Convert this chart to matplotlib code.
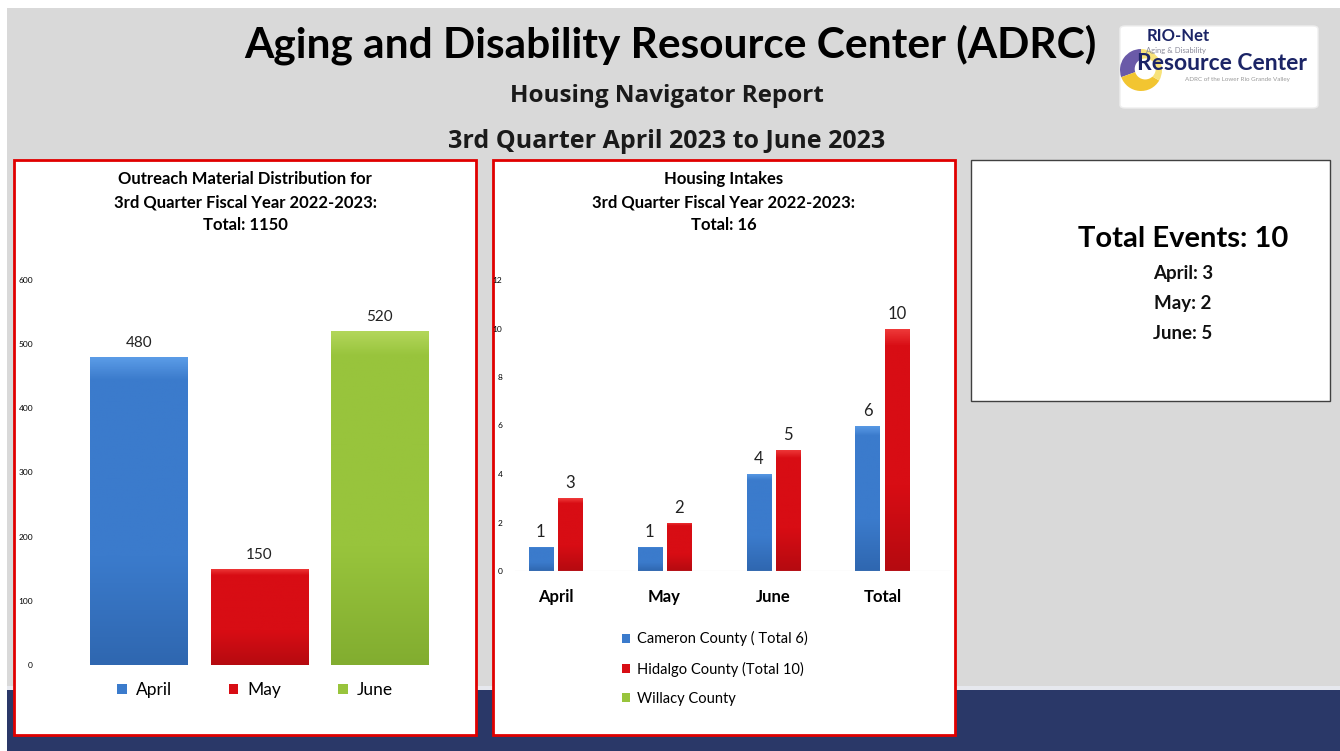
import numpy as np
import matplotlib.pyplot as plt
from matplotlib.patches import Rectangle, Patch, Wedge, Circle, FancyBboxPatch
from matplotlib.colors import LinearSegmentedColormap

# data
outreach_months = ['April', 'May', 'June']
outreach_values = [480, 150, 520]
outreach_total = 1150

intake_categories = ['April', 'May', 'June', 'Total']
cameron_values = [1, 1, 4, 6]
hidalgo_values = [3, 2, 5, 10]
intake_labels = ['Cameron County ( Total 6)', 'Hidalgo County (Total 10)', 'Willacy County']
intake_total = 16

event_months = ['April', 'May', 'June']
event_counts = [3, 2, 5]

BLUE = '#3b7bcc'
RED = '#d80d14'
GREEN = '#98c43c'
NAVY = '#2a3868'
GRAY = '#d9d9d9'

W, H = 1340, 751
plt.rcParams['font.family'] = ['Lato', 'DejaVu Sans']

fig = plt.figure(figsize=(W / 100, H / 100), dpi=100)
fig.patch.set_facecolor('white')


def box(x0, y0, x1, y1):
    return [x0 / W, 1 - y1 / H, (x1 - x0) / W, (y1 - y0) / H]


def rect(x0, y0, x1, y1, **kw):
    kw.setdefault('zorder', -5)
    fig.patches.append(Rectangle((x0 / W, 1 - y1 / H), (x1 - x0) / W, (y1 - y0) / H,
                                 transform=fig.transFigure, **kw))


def ftext(x, y, s, **kw):
    kw.setdefault('ha', 'center')
    kw.setdefault('va', 'center')
    fig.text(x / W, 1 - y / H, s, **kw)


def shade(ax, bars, color, dark, light):
    # Excel style bar: darker bottom, light band at the top
    cmap = LinearSegmentedColormap.from_list('g', [(0, dark), (0.35, color), (0.93, color), (1, light)])
    grad = np.linspace(0, 1, 128).reshape(-1, 1)
    for b in bars:
        x, y = b.get_x(), b.get_y()
        w, h = b.get_width(), b.get_height()
        if h <= 0:
            continue
        im = ax.imshow(grad, cmap=cmap, vmin=0, vmax=1, aspect='auto', origin='lower',
                       extent=(x, x + w, y, y + h), zorder=b.get_zorder() + 0.1)
        im.set_clip_path(b)


SHADES = {BLUE: ('#2f67b0', '#5a9be6'), RED: ('#b50a10', '#ef3a3a'), GREEN: ('#82ad30', '#b2d65a')}

# background
rect(7, 8, W, 690, facecolor=GRAY, edgecolor='none')
rect(7, 686, W, 690, facecolor='#e6e8ee', edgecolor='none')
rect(7, 690, W, H, facecolor=NAVY, edgecolor='none')

# headings
ftext(670, 45, 'Aging and Disability Resource Center (ADRC)', fontsize=30.5, fontweight='bold')
ftext(667, 96, 'Housing Navigator Report', fontsize=17.5, fontweight='bold', color='#1a1a1a',
      family=['Open Sans', 'DejaVu Sans'])
ftext(667, 141, '3rd Quarter April 2023 to June 2023', fontsize=18, fontweight='bold', color='#1a1a1a',
      family=['Open Sans', 'DejaVu Sans'])

# logo
fig.patches.append(FancyBboxPatch((1120 / W, 1 - 108 / H), 198 / W, 82 / H,
                                  boxstyle='round,pad=0,rounding_size=0.004', zorder=-4,
                                  transform=fig.transFigure, facecolor='white', edgecolor='#eeeeee'))
gax = fig.add_axes(box(1120, 46, 1162, 94))
gax.set_xlim(-1, 1)
gax.set_ylim(-1, 1)
gax.set_aspect('equal')
gax.axis('off')
gax.add_patch(Wedge((0, 0), 1, 90, 200, facecolor='#6a5aa8'))
gax.add_patch(Wedge((0, 0), 1, 200, 330, facecolor='#f2c531'))
gax.add_patch(Wedge((0, 0), 1, 330, 90, facecolor='#f7e27a'))
gax.add_patch(Circle((0.2, 0.05), 0.5, facecolor='white'))
ftext(1178, 36, 'RIO-Net', fontsize=12, fontweight='bold', color='#1b2466')
ftext(1176, 51, 'Aging & Disability', fontsize=5.5, color='#8a8a9a')
ftext(1222, 63, 'Resource Center', fontsize=16.5, fontweight='bold', color='#1b2466')
ftext(1237, 79, 'ADRC of the Lower Rio Grande Valley', fontsize=4.5, color='#9a9a9a')

# panels
rect(14, 160, 476, 735, facecolor='white', edgecolor='#e00000', linewidth=2)
rect(493, 160, 955, 735, facecolor='white', edgecolor='#e00000', linewidth=2)
rect(971, 160, 1330, 401, facecolor='white', edgecolor='#404040', linewidth=1)

# left chart: outreach material
ftext(245, 179, 'Outreach Material Distribution for', fontsize=12, fontweight='bold')
ftext(245, 202, '3rd Quarter Fiscal Year 2022-2023:', fontsize=12, fontweight='bold')
ftext(245, 225, f'Total: {outreach_total}', fontsize=12, fontweight='bold')

ax1 = fig.add_axes(box(40, 280, 470, 665))
ax1.set_facecolor('none')
xs = np.arange(len(outreach_months))
colors1 = [BLUE, RED, GREEN]
bars1 = ax1.bar(xs, outreach_values, width=0.81, color=colors1, linewidth=0)
for b, c in zip(bars1, colors1):
    shade(ax1, [b], c, *SHADES[c])
ax1.bar_label(bars1, padding=5, fontsize=11, color='#222222')
ax1.set_xlim(-0.825, 2.754)
ax1.set_ylim(0, 600)
ax1.set_yticks(range(0, 601, 100))
ax1.tick_params(axis='y', length=0, labelsize=6, pad=5)
ax1.set_xticks([])
for s in ax1.spines.values():
    s.set_visible(False)
handles1 = [Patch(facecolor=c, edgecolor='none') for c in colors1]
ax1.legend(handles1, outreach_months, loc='center', bbox_to_anchor=(0.5, -0.065), ncol=3,
           frameon=False, fontsize=12.5, handlelength=0.55, handleheight=0.55,
           handletextpad=0.5, columnspacing=3.3)

# middle chart: housing intakes
ftext(724, 179, 'Housing Intakes', fontsize=12, fontweight='bold')
ftext(724, 202, '3rd Quarter Fiscal Year 2022-2023:', fontsize=12, fontweight='bold')
ftext(724, 225, f'Total: {intake_total}', fontsize=12, fontweight='bold')

ax2 = fig.add_axes(box(515, 280, 950, 571))
ax2.set_facecolor('none')
xs2 = np.arange(len(intake_categories))
bw = 0.225
b_cam = ax2.bar(xs2 - 0.135, cameron_values, width=bw, color=BLUE, linewidth=0, label=intake_labels[0])
b_hid = ax2.bar(xs2 + 0.135, hidalgo_values, width=bw, color=RED, linewidth=0, label=intake_labels[1])
shade(ax2, b_cam, BLUE, *SHADES[BLUE])
shade(ax2, b_hid, RED, *SHADES[RED])
ax2.bar_label(b_cam, padding=5, fontsize=12, color='#222222')
ax2.bar_label(b_hid, padding=5, fontsize=12, color='#222222')
ax2.set_xlim(-0.372, 3.62)
ax2.set_ylim(0, 12)
ax2.set_yticks(range(0, 13, 2))
ax2.tick_params(axis='y', length=0, labelsize=6, pad=9)
ax2.set_xticks(xs2)
ax2.set_xticklabels(intake_categories, fontsize=12, fontweight='bold')
ax2.tick_params(axis='x', length=0, pad=13)
for s in ax2.spines.values():
    s.set_visible(False)
ax2.axhline(0, color='#d0d0d0', linewidth=0.8)
handles2 = [Patch(facecolor=c, edgecolor='none') for c in [BLUE, RED, GREEN]]
ax2.legend(handles2, intake_labels, loc='upper left', bbox_to_anchor=(0.215, -0.162),
           frameon=False, fontsize=10.5, handlelength=0.55, handleheight=0.55,
           handletextpad=0.5, labelspacing=1.05)

# right box: events
ftext(1183, 239, f'Total Events: {sum(event_counts)}', fontsize=21, fontweight='bold')
for i, (m, n) in enumerate(zip(event_months, event_counts)):
    ftext(1183, 273 + 30 * i, f'{m}: {n}', fontsize=13.5, fontweight='bold', color='#111111')

fig.savefig('out.png', dpi=100)
